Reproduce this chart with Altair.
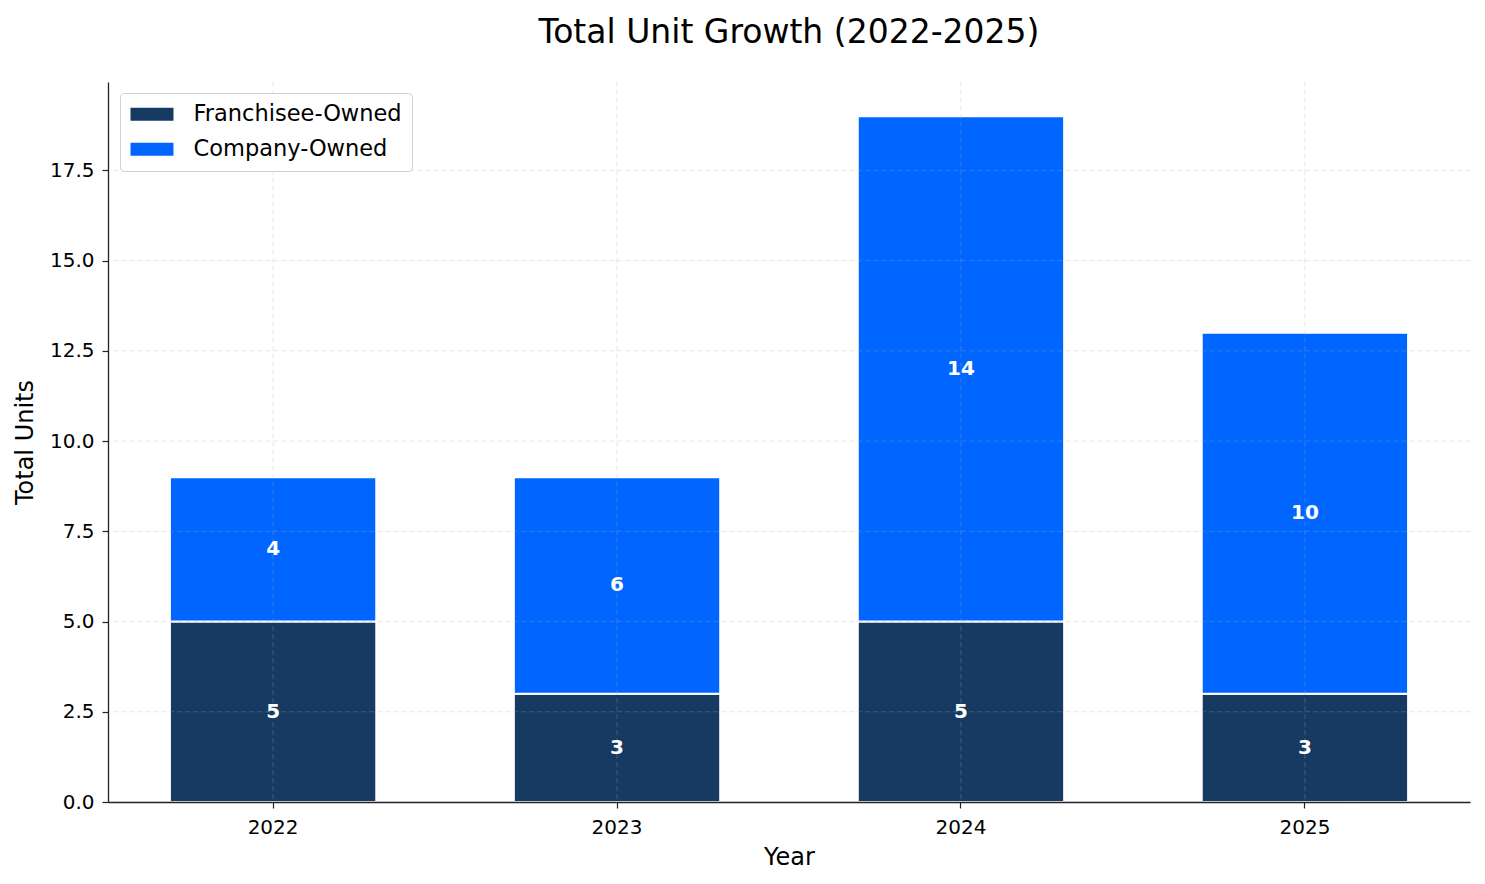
import altair as alt
import pandas as pd

years = ["2022", "2023", "2024", "2025"]
franchisee = [5, 3, 5, 3]
company = [4, 6, 14, 10]
series = ["Franchisee-Owned", "Company-Owned"]
colors = ["#163a61", "#0066ff"]
y_ticks = [0, 2.5, 5, 7.5, 10, 12.5, 15, 17.5]

rows = []
for i, y in enumerate(years):
    rows.append({"year": y, "series": series[0], "units": franchisee[i], "ord": 0})
    rows.append({"year": y, "series": series[1], "units": company[i], "ord": 1})
df = pd.DataFrame(rows)
grid_y = pd.DataFrame({"v": y_ticks})
grid_x = pd.DataFrame({"year": years})

FONT = "DejaVu Sans"
x_scale = alt.Scale(domain=years, paddingInner=0.4, paddingOuter=0.18)
y_scale = alt.Scale(domain=[0, 19.95], nice=False, zero=True)

base = alt.Chart(df).transform_stack(
    stack="units", groupby=["year"], as_=["y0", "y1"], sort=[alt.SortField("ord", order="ascending")]
).transform_calculate(mid="(datum.y0 + datum.y1) / 2")

bars = base.mark_bar(stroke="white", strokeWidth=2).encode(
    x=alt.X("year:N", scale=x_scale, sort=years,
            axis=alt.Axis(title="Year", labelAngle=0, grid=False, zindex=2)),
    y=alt.Y("y0:Q", scale=y_scale,
            axis=alt.Axis(title="Total Units", values=y_ticks, format=".1f", grid=False, zindex=2)),
    y2="y1:Q",
    color=alt.Color("series:N", scale=alt.Scale(domain=series, range=colors),
                    legend=alt.Legend(title=None, orient="none", legendX=12, legendY=11,
                                      symbolType="M-1,-0.6H3V0.6H-1Z", symbolSize=462,
                                      symbolStrokeWidth=0, labelFontSize=22.5, labelFont=FONT,
                                      labelOffset=41, rowPadding=12, padding=10,
                                      labelLimit=400,
                                      strokeColor="#d0d0d0", cornerRadius=4,
                                      fillColor="white", labelColor="#000000")),
)

gy = alt.Chart(grid_y).mark_rule(color="#b0b0b0", opacity=0.3, strokeDash=[5, 3], strokeWidth=1).encode(
    y=alt.Y("v:Q", scale=y_scale)
)
gx = alt.Chart(grid_x).mark_rule(color="#b0b0b0", opacity=0.3, strokeDash=[5, 3], strokeWidth=1).encode(
    x=alt.X("year:N", scale=x_scale, sort=years)
)

labels = base.mark_text(color="white", fontWeight="bold", fontSize=20, font=FONT).encode(
    x=alt.X("year:N", scale=x_scale, sort=years),
    y=alt.Y("mid:Q", scale=y_scale),
    text="units:Q",
)

chart = alt.layer(bars, gy, gx, labels).properties(
    width=1362, height=720,
    title=alt.TitleParams("Total Unit Growth (2022-2025)", fontSize=33, font=FONT,
                          fontWeight="normal", color="#000000", offset=32, anchor="middle"),
    autosize=alt.AutoSizeParams(type="none"),
    padding={"left": 100, "top": 74, "right": 7, "bottom": 74},
).configure_view(stroke=None).configure_axis(
    labelFont=FONT, titleFont=FONT, labelFontSize=20, titleFontSize=24,
    titleFontWeight="normal", labelColor="#000000", titleColor="#000000",
    domainColor="#222222", tickColor="#222222", domainWidth=1.3, tickWidth=1.2,
    tickSize=6, labelPadding=6,
).configure_axisY(titlePadding=12, labelPadding=8).configure_axisX(titlePadding=8, labelPadding=9)

chart.save("out.html", embed_options={"renderer": "svg", "actions": False})
